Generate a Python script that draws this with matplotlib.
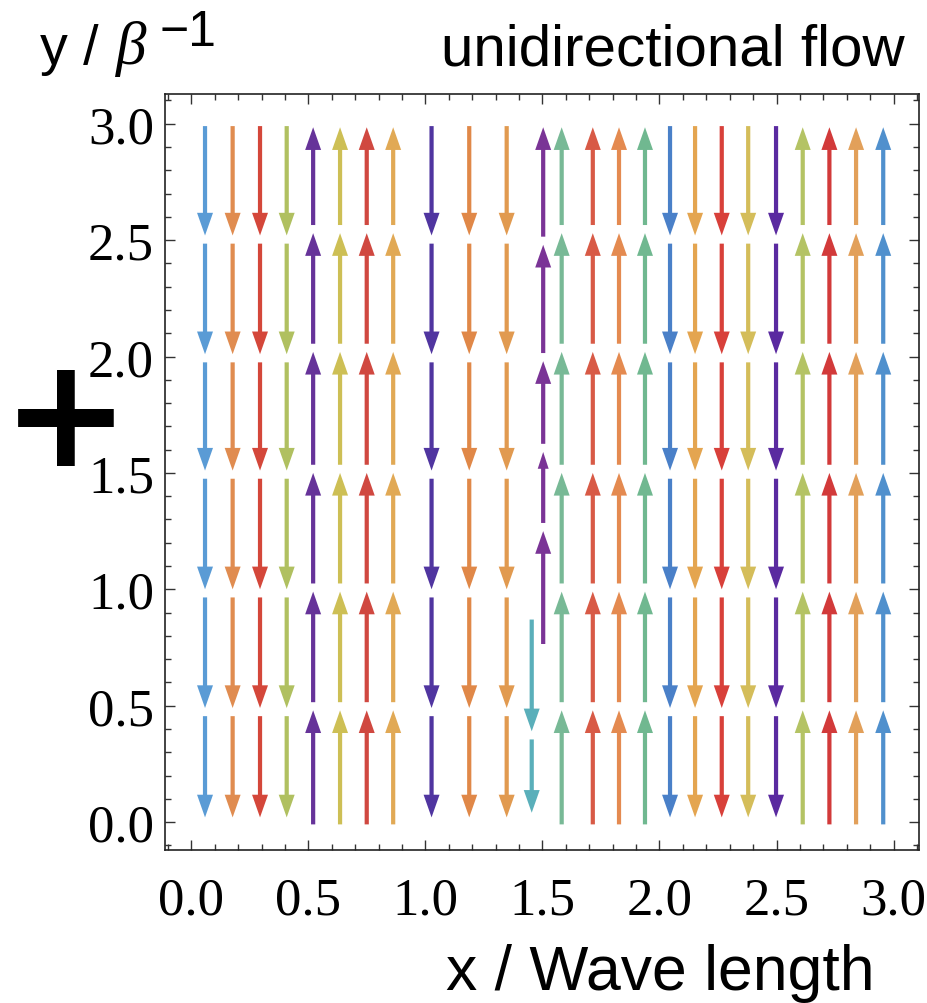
import matplotlib

matplotlib.use("Agg")
import matplotlib.pyplot as plt
from matplotlib.ticker import MultipleLocator, FixedLocator

# streamline columns: x position, direction (+1 up, -1 down), colour
col_x = [0.058, 0.176, 0.293, 0.407, 0.520, 0.635, 0.749, 0.862,
         1.026, 1.187, 1.347, 1.454, 1.503, 1.582, 1.715, 1.827, 1.938,
         2.045, 2.152, 2.266, 2.379, 2.498, 2.612, 2.726, 2.840, 2.956]
col_dir = [-1, -1, -1, -1, 1, 1, 1, 1,
           -1, -1, -1, -1, 1, 1, 1, 1, 1,
           -1, -1, -1, -1, -1, 1, 1, 1, 1]
col_colors = ["#5a9bd5", "#e08c50", "#d4473a", "#b0c060", "#663399", "#cdbf55", "#d04840", "#e1a955",
              "#5035a0", "#e08848", "#e19a50", "#5aafba", "#7a3496", "#78b996", "#d85a46", "#e48a50", "#70b890",
              "#4a80c8", "#e4a550", "#d8403a", "#d4bd5a", "#5a2aa0", "#b4c364", "#d23a3a", "#e2a05a", "#5090cd"]

# where each streamline starts and where its arrow heads sit
down_start = 2.99
down_tips = [2.52, 2.01, 1.51, 1.0, 0.49, 0.02]
up_start = -0.01
up_tips = [0.48, 0.99, 1.5, 2.02, 2.53, 2.985]
# the two short streamlines near x = 1.5
special_start = {11: 0.87, 12: 0.765}
special_tips = {11: [0.39, 0.04], 12: [1.25, 1.59, 1.98, 2.48, 2.985]}
small_heads = {12: [1]}  # (column, head index) drawn with a smaller head

tick_vals = [0.0, 0.5, 1.0, 1.5, 2.0, 2.5, 3.0]
tick_labels = ["0.0", "0.5", "1.0", "1.5", "2.0", "2.5", "3.0"]

GAP = 0.035

big = {"x": [], "y": [], "v": [], "c": []}
small = {"x": [], "y": [], "v": [], "c": []}
for i, (x, d, c) in enumerate(zip(col_x, col_dir, col_colors)):
    if i in special_start:
        cur, tips = special_start[i], special_tips[i]
    elif d < 0:
        cur, tips = down_start, down_tips
    else:
        cur, tips = up_start, up_tips
    for k, t in enumerate(tips):
        dest = small if k in small_heads.get(i, []) else big
        dest["x"].append(x)
        dest["y"].append(cur)
        dest["v"].append(t - cur)
        dest["c"].append(c)
        cur = t + d * GAP

fig = plt.figure(figsize=(9.27, 10.04), dpi=100)
ax = fig.add_axes([0.178, 0.1524, 0.8134, 0.753])

ax.quiver(big["x"], big["y"], [0] * len(big["x"]), big["v"], color=big["c"],
          angles="xy", scale_units="xy", scale=1, units="inches", width=0.042,
          headwidth=3.8, headlength=5.4, headaxislength=5.4, pivot="tail")
ax.quiver(small["x"], small["y"], [0] * len(small["x"]), small["v"], color=small["c"],
          angles="xy", scale_units="xy", scale=1, units="inches", width=0.042,
          headwidth=2.6, headlength=4.0, headaxislength=4.0, pivot="tail")

ax.set_xlim(-0.113, 3.109)
ax.set_ylim(-0.12, 3.128)

for axis in (ax.xaxis, ax.yaxis):
    axis.set_major_locator(FixedLocator(tick_vals))
    axis.set_minor_locator(MultipleLocator(0.1))
ax.set_xticklabels(tick_labels)
ax.set_yticklabels(tick_labels)
ax.tick_params(which="both", direction="in", top=True, right=True, width=1, color="#333333")
ax.tick_params(which="major", length=7)
ax.tick_params(which="minor", length=4)
ax.tick_params(axis="x", pad=19)
ax.tick_params(axis="y", pad=8)
for lab in ax.get_xticklabels() + ax.get_yticklabels():
    lab.set_family("Liberation Serif")
    lab.set_fontsize(38)
for sp in ax.spines.values():
    sp.set_linewidth(1.2)
    sp.set_color("#222222")

# y label split into pieces so the superscript can be as large as in the original
fig.text(40 / 927, 1 - 64 / 1004, "y /", fontsize=40, family="Liberation Sans",
         va="baseline", ha="left")
fig.text(116 / 927, 1 - 64 / 1004, "\u03b2", fontsize=44, family="Liberation Serif",
         style="italic", va="baseline", ha="left")
fig.text(160 / 927, 1 - 46 / 1004, "\u22121", fontsize=36, family="Liberation Sans",
         va="baseline", ha="left")
fig.text(905 / 927, 1 - 66 / 1004, "unidirectional flow", fontsize=42, family="Liberation Sans",
         va="baseline", ha="right")
fig.text(660 / 927, 1 - 990 / 1004, "x / Wave length", fontsize=45, family="Liberation Sans",
         va="baseline", ha="center")
fig.text(66 / 927, 1 - 423 / 1004, "+", fontsize=110, fontweight="bold", family="DejaVu Sans",
         va="center", ha="center")

fig.savefig("out.png", dpi=100)
